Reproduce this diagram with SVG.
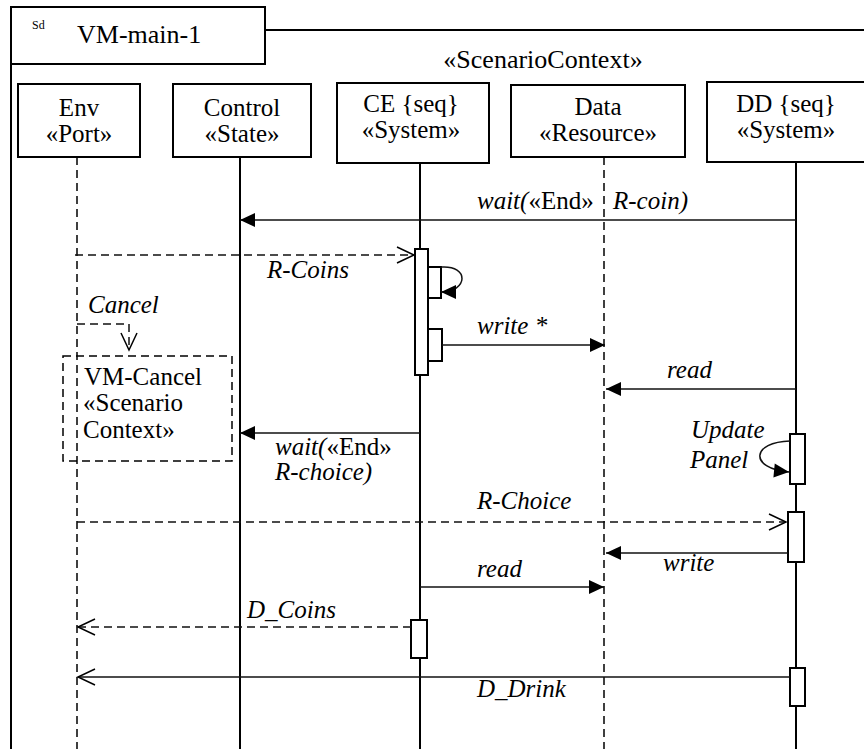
<svg xmlns="http://www.w3.org/2000/svg" width="864" height="749" viewBox="0 0 864 749" font-family="Liberation Serif, Times New Roman, serif" font-size="25">
<style>
.it{font-style:italic}
.n{font-style:normal}
.c{text-anchor:middle}
.box{fill:#fff;stroke:#000;stroke-width:2}
.life{stroke:#000;stroke-width:2;fill:none}
.dlife{stroke:#000;stroke-width:1.5;stroke-dasharray:8,5;fill:none}
.msg{stroke:#111;stroke-width:1.5;fill:none}
.dmsg{stroke:#111;stroke-width:1.5;stroke-dasharray:8,5;fill:none}
.act{fill:#fff;stroke:#000;stroke-width:2}
</style>
<defs>
<marker id="fill" markerUnits="userSpaceOnUse" markerWidth="16" markerHeight="14" refX="15" refY="7" orient="auto" overflow="visible">
<path d="M0,0 L15,7 L0,14 z" fill="#000"/>
</marker>
<marker id="open" markerUnits="userSpaceOnUse" markerWidth="18" markerHeight="16" refX="17" refY="8" orient="auto" overflow="visible">
<path d="M0,0 L17,8 L0,16" fill="none" stroke="#000" stroke-width="1.5"/>
</marker>
</defs>
<rect width="864" height="749" fill="#fff"/>

<g id="frame">
<line x1="265" y1="30" x2="864" y2="30" stroke="#000" stroke-width="2"/>
<line x1="11" y1="64" x2="11" y2="749" stroke="#000" stroke-width="2"/>
<rect x="11" y="7" width="254" height="57" class="box"/>
<text x="32" y="29" font-size="12">Sd</text>
<text x="77" y="43" font-size="26">VM-main-1</text>
<text x="543" y="68" class="c" font-size="26">«ScenarioContext»</text>
</g>

<g id="lifelines">
<line x1="77" y1="157" x2="77" y2="749" class="dlife"/>
<line x1="240" y1="157" x2="240" y2="749" class="life"/>
<line x1="420" y1="163" x2="420" y2="749" class="life"/>
<line x1="604" y1="157" x2="604" y2="749" class="dlife"/>
<line x1="796" y1="163" x2="796" y2="749" class="life"/>
</g>

<g id="env">
<rect x="18" y="84" width="122" height="73" class="box"/>
<text x="79" y="116" class="c">Env</text>
<text x="79" y="142" class="c">«Port»</text>
</g>
<g id="control">
<rect x="173" y="84" width="138" height="73" class="box"/>
<text x="242" y="116" class="c">Control</text>
<text x="242" y="142" class="c">«State»</text>
</g>
<g id="ce">
<rect x="337" y="83" width="152" height="80" class="box"/>
<text x="411" y="112" class="c">CE {seq}</text>
<text x="411" y="138" class="c">«System»</text>
</g>
<g id="data">
<rect x="511" y="85" width="174" height="72" class="box"/>
<text x="598" y="115" class="c">Data</text>
<text x="598" y="141" class="c">«Resource»</text>
</g>
<g id="dd">
<rect x="707" y="82" width="160" height="80" class="box"/>
<text x="786" y="112" class="c">DD {seq}</text>
<text x="786" y="138" class="c">«System»</text>
</g>

<g id="vm-cancel">
<rect x="63" y="356" width="169" height="105" fill="none" stroke="#000" stroke-width="1.5" stroke-dasharray="8,5"/>
<text x="84" y="385">VM-Cancel</text>
<text x="83" y="411">«Scenario</text>
<text x="83" y="438">Context»</text>
</g>

<g id="activations">
<rect x="415" y="249" width="13" height="126" class="act"/>
<rect x="428" y="267" width="13" height="31" class="act"/>
<rect x="428" y="329" width="14" height="32" class="act"/>
<rect x="790" y="434" width="15" height="50" class="act"/>
<rect x="788" y="512" width="16" height="50" class="act"/>
<rect x="411" y="620" width="16" height="38" class="act"/>
<rect x="790" y="668" width="15" height="38" class="act"/>
</g>

<g id="connectors">
<line x1="796" y1="220" x2="240" y2="220" class="msg" marker-end="url(#fill)"/>
<line x1="75" y1="255" x2="414" y2="255" class="dmsg" marker-end="url(#open)"/>
<path d="M441,267 C470,265 468,292 441,292" class="msg" stroke-width="2" marker-end="url(#fill)"/>
<line x1="442" y1="345" x2="605" y2="345" class="msg" marker-end="url(#fill)"/>
<line x1="796" y1="389" x2="606" y2="389" class="msg" marker-end="url(#fill)"/>
<path d="M77,324 L129,324 L129,350" class="dmsg" marker-end="url(#open)"/>
<line x1="420" y1="433" x2="240" y2="433" class="msg" marker-end="url(#fill)"/>
<path d="M790,441 C752,442 748,468 789,472" class="msg" stroke-width="2" marker-end="url(#fill)"/>
<line x1="77" y1="522" x2="786" y2="522" class="dmsg" marker-end="url(#open)"/>
<line x1="788" y1="553" x2="606" y2="553" class="msg" marker-end="url(#fill)"/>
<line x1="420" y1="587" x2="604" y2="587" class="msg" marker-end="url(#fill)"/>
<line x1="411" y1="627" x2="78" y2="627" class="dmsg" marker-end="url(#open)"/>
<line x1="790" y1="677" x2="78" y2="677" class="msg" marker-end="url(#open)"/>
</g>

<g id="labels">
<text x="477" y="209" class="it">wait(<tspan class="n">«End»</tspan></text>
<text x="613" y="209" class="it">R-coin)</text>
<text x="267" y="278" class="it">R-Coins</text>
<text x="88" y="313" class="it">Cancel</text>
<text x="477" y="334" class="it">write *</text>
<text x="667" y="378" class="it">read</text>
<text x="275" y="455" class="it">wait(<tspan class="n">«End»</tspan></text>
<text x="275" y="480" class="it">R-choice)</text>
<text x="691" y="438" class="it">Update</text>
<text x="690" y="468" class="it">Panel</text>
<text x="477" y="509" class="it">R-Choice</text>
<text x="663" y="571" class="it">write</text>
<text x="477" y="577" class="it">read</text>
<text x="247" y="618" class="it">D_Coins</text>
<text x="477" y="697" class="it">D_Drink</text>
</g>
</svg>
